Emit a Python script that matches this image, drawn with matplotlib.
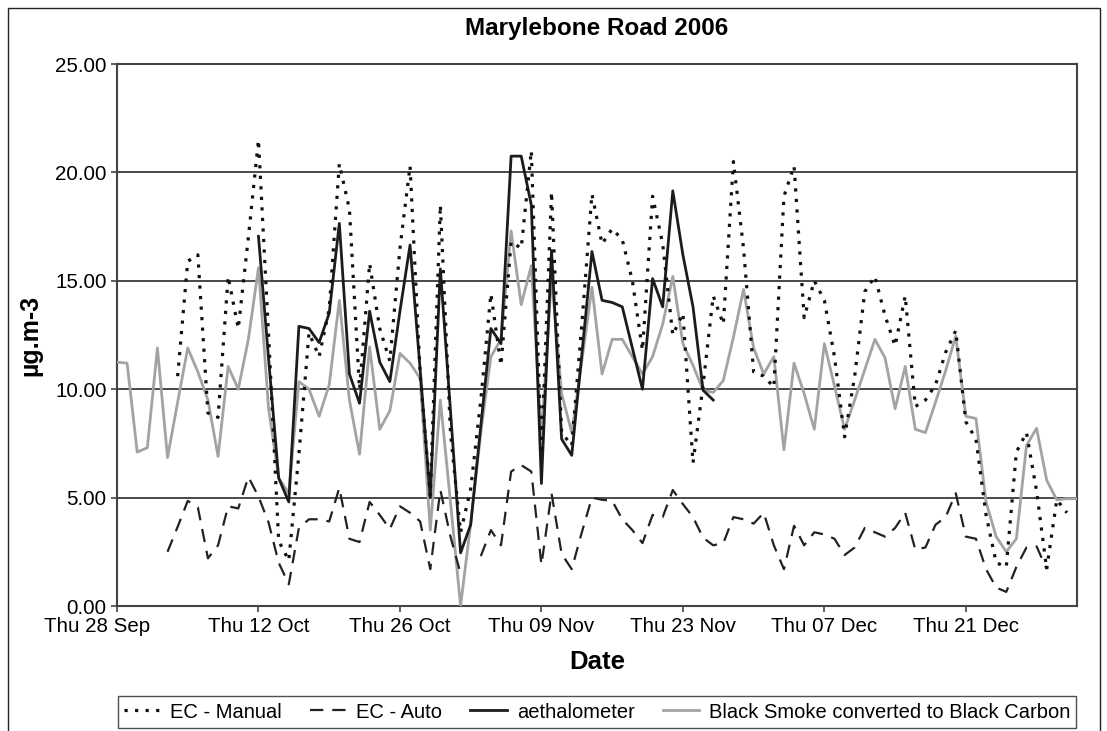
import matplotlib
matplotlib.use("Agg")
import matplotlib.pyplot as plt
import matplotlib.dates as mdates
import matplotlib.transforms as mtransforms
from matplotlib.patches import Rectangle
import numpy as np
import pandas as pd

plt.rcParams['font.family'] = ['Liberation Sans', 'DejaVu Sans']

nan = np.nan

# daily values, 28 Sep 2006 .. 01 Jan 2007
dates = pd.date_range('2006-09-28', periods=96, freq='D')

ec_manual = [nan, nan, nan, nan, nan, nan, 10.6, 15.9, 16.2, 8.9,
             8.7, 15.2, 12.8, 17.0, 21.5, 12.5, 3.0, 2.1, 7.0, 12.6,
             11.5, 13.7, 20.4, 18.3, 10.0, 15.8, 12.8, 11.3, 16.5, 20.3,
             10.7, 5.1, 18.5, 8.0, 3.4, 5.4, 9.5, 14.4, 11.1, 16.8,
             16.5, 21.0, 7.0, 19.1, 8.0, 7.4, 13.0, 19.0, 16.7, 17.4,
             16.9, 15.0, 11.8, 18.9, 16.7, 12.5, 13.5, 6.6, 10.2, 14.3,
             13.0, 20.5, 16.5, 10.8, 10.6, 10.1, 18.9, 20.3, 13.3, 15.0,
             14.1, 11.5, 7.8, 10.6, 14.5, 15.2, 13.4, 12.0, 14.3, 9.2,
             9.5, 10.2, 11.7, 12.7, 8.5, 7.7, 4.2, 2.0, 1.8, 7.1,
             8.0, 5.3, 1.7, 4.9, 4.3, nan]

ec_auto = [nan, nan, nan, nan, nan, 2.5, 3.65, 4.85, 4.55, 2.2,
           2.8, 4.6, 4.5, 5.95, 5.05, 3.85, 2.0, 1.0, 3.6, 4.0,
           4.0, 3.9, 5.45, 3.1, 2.95, 4.8, 4.2, 3.55, 4.6, 4.3,
           3.9, 1.7, 5.35, 3.2, 1.5, nan, 2.3, 3.5, 2.8, 6.2,
           6.5, 6.2, 1.9, 5.2, 2.4, 1.7, 3.4, 5.0, 4.9, 4.85,
           4.0, 3.5, 2.9, 4.2, 4.1, 5.35, 4.7, 4.1, 3.15, 2.8,
           2.9, 4.1, 4.0, 3.8, 4.3, 2.8, 1.7, 3.7, 2.8, 3.4,
           3.3, 3.1, 2.35, 2.7, 3.6, 3.4, 3.2, 3.6, 4.3, 2.6,
           2.7, 3.75, 4.1, 5.2, 3.2, 3.1, 1.7, 0.85, 0.65, 1.8,
           2.7, 2.75, 1.7, nan, nan, nan]

aethalometer = [nan] * 14 + [
    17.05, 11.4, 5.9, 4.8, 12.9, 12.8, 12.15, 13.5, 17.65, 10.7,
    9.35, 13.6, 11.25, 10.35, 13.6, 16.65, 10.9, 5.0, 15.55, 9.0,
    2.45, 3.75, 8.3, 12.8, 12.1, 20.75, 20.75, 18.5, 5.65, 16.4,
    7.7, 6.95, 11.6, 16.35, 14.1, 14.0, 13.8, 11.9, 10.0, 15.1,
    13.8, 19.15, 16.2, 13.8, 9.95, 9.5] + [nan] * 36

black_smoke = [11.25, 11.2, 7.1, 7.3, 11.9, 6.85, 9.4, 11.9, 10.8, 9.5,
               6.9, 11.05, 10.0, 12.3, 15.6, 9.1, 5.9, 5.2, 10.35, 10.0,
               8.75, 10.2, 14.1, 9.5, 7.0, 11.95, 8.15, 9.0, 11.65, 11.2,
               10.5, 3.5, 9.5, 4.8, 0.0, 3.8, 8.0, 11.5, 12.3, 17.3,
               13.9, 15.7, 7.8, 15.2, 9.8, 8.0, 11.3, 14.7, 10.7, 12.3,
               12.3, 11.5, 10.7, 11.5, 13.0, 15.2, 12.1, 11.1, 9.95, 9.85,
               10.4, 12.4, 14.6, 11.9, 10.7, 11.5, 7.2, 11.2, 9.8, 8.15,
               12.1, 10.15, 8.15, 9.5, 10.9, 12.3, 11.45, 9.1, 11.05, 8.15,
               8.0, 9.4, 10.85, 12.45, 8.75, 8.65, 4.8, 3.2, 2.5, 3.1,
               7.4, 8.2, 5.8, 4.9, 4.95, 4.95]

tick_dates = pd.date_range('2006-09-28', periods=7, freq='14D')

fig = plt.figure(figsize=(11.07, 7.31), dpi=100)
ax = fig.add_axes([117 / 1107, 1 - 606 / 731, 960 / 1107, 542 / 731])

l_bs, = ax.plot(dates, black_smoke, color='#a3a3a3', lw=2.0, zorder=3,
                label='Black Smoke converted to Black Carbon')
l_auto, = ax.plot(dates, ec_auto, color='#222222', lw=1.6, ls=(0, (6, 4)),
                  zorder=4, label='EC - Auto')
l_aeth, = ax.plot(dates, aethalometer, color='#1c1c1c', lw=2.0, zorder=5,
                  label='aethalometer')
l_man, = ax.plot(dates, ec_manual, color='#111111', lw=2.3, ls=(0, (1, 2.3)),
                 zorder=6, label='EC - Manual')

ax.set_ylim(0, 25)
ax.set_yticks(np.arange(0, 26, 5))
ax.yaxis.set_major_formatter(matplotlib.ticker.FormatStrFormatter('%.2f'))
ax.set_xlim(dates[0], dates[-1])
ax.set_xticks(tick_dates)
ax.xaxis.set_major_formatter(mdates.DateFormatter('%a %d %b'))
ax.grid(axis='y', color='#3a3a3a', lw=1.3, zorder=1)
ax.tick_params(labelsize=14.8, length=4, width=1.2, color='#444444')
ax.tick_params(axis='x', pad=4)
for s in ax.spines.values():
    s.set_color('#444444')
    s.set_linewidth(1.5)

# first date label sits a little left of its tick
fig.canvas.draw()
first = ax.get_xticklabels()[0]
first.set_transform(first.get_transform() +
                    mtransforms.ScaledTranslation(-0.2, 0, fig.dpi_scale_trans))

fig.text(597 / 1107, 1 - 29 / 731, 'Marylebone Road 2006', ha='center',
         va='center', fontsize=17.5, fontweight='bold')
fig.text(30 / 1107, 1 - 335 / 731, 'µg.m-3', rotation=90, ha='center',
         va='center', fontsize=18, fontweight='bold')
fig.text(597 / 1107, 1 - 662 / 731, 'Date', ha='center', va='center',
         fontsize=18.5, fontweight='bold')

leg = fig.legend(handles=[l_man, l_auto, l_aeth, l_bs], ncol=4,
                 loc='center', bbox_to_anchor=(597 / 1107, 1 - 712 / 731),
                 fontsize=14.5, frameon=True, fancybox=False,
                 handlelength=1.8, handletextpad=0.5, columnspacing=1.4,
                 borderpad=0.3)
leg.get_frame().set_edgecolor('#222222')
leg.get_frame().set_linewidth(1.0)

fig.patches.append(Rectangle((8 / 1107, -0.02), 1092 / 1107, 1.02 - 8 / 731,
                             transform=fig.transFigure, fill=False,
                             edgecolor='#222222', lw=1.0))

fig.savefig('out.png', dpi=100)
